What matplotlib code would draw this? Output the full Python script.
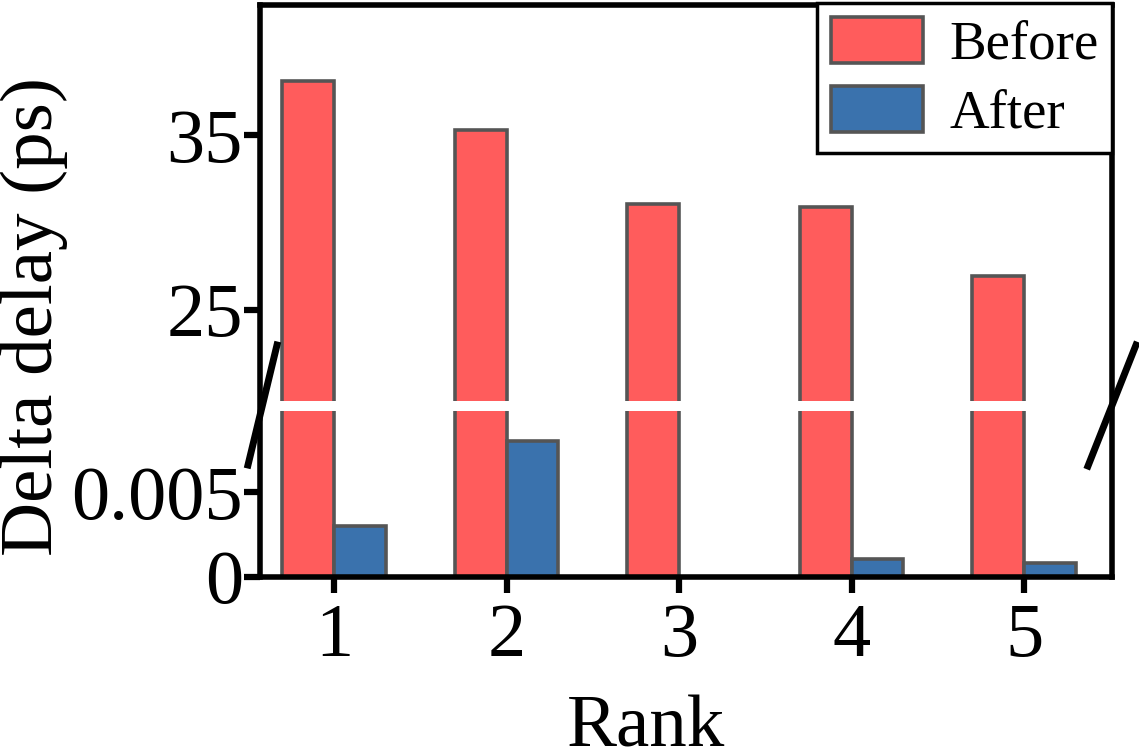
import numpy as np
import matplotlib
matplotlib.use("Agg")
import matplotlib.pyplot as plt
from matplotlib.patches import Rectangle
from matplotlib.lines import Line2D

# ===============================================
# Data
# ===============================================

ranks = [1, 2, 3, 4, 5]
before = [38.1, 35.3, 31.05, 30.9, 26.95]
after = [0.0030, 0.0080, 0.0, 0.00106, 0.00083]

ytick_vals = [0, 0.005, 25, 35]
ytick_labels = ["0", "0.005", "25", "35"]

# ===============================================
# Broken axis scale (piecewise linear)
# ===============================================

LOW_TOP = 0.01006     # top of lower segment
HIGH_BOT = 19.514     # bottom of upper segment
LOW_K = 17000.0       # px per unit in lower segment
HIGH_K = 17.5         # px per unit in upper segment
P_BREAK = LOW_TOP * LOW_K


def forward(y):
    y = np.asarray(y, dtype=float)
    return np.where(y <= LOW_TOP, y * LOW_K,
                    P_BREAK + (y - HIGH_BOT) * HIGH_K)


def inverse(p):
    p = np.asarray(p, dtype=float)
    return np.where(p <= P_BREAK, p / LOW_K,
                    HIGH_BOT + (p - P_BREAK) / HIGH_K)


plt.rcParams["font.family"] = ["Liberation Serif", "DejaVu Serif"]

W, H = 1139, 754
fig = plt.figure(figsize=(W / 100, H / 100), dpi=100)
ax = fig.add_axes([260 / W, 1 - 577 / H, 852 / W, 572 / H])
ax.set_yscale("function", functions=(forward, inverse))

x = np.array(ranks, dtype=float)
w = 0.3
edge = "#555555"

ax.bar(x - w / 2, before, w, color="#FF5C5C", edgecolor=edge,
       linewidth=2.6, label="Before", zorder=1)
ax.bar(x + w / 2, after, w, color="#3A72AD", edgecolor=edge,
       linewidth=2.6, label="After", zorder=1)

ax.set_xlim(0.571, 5.51)
ax.set_ylim(0, 42.43)
ax.set_xticks(ranks)
ax.set_yticks(ytick_vals)
ax.set_yticklabels(ytick_labels)
ax.minorticks_off()

ax.tick_params(axis="both", labelsize=55, width=4.5, length=11.5,
               direction="out")
ax.tick_params(axis="y", pad=0.8)
ax.tick_params(axis="x", pad=7.5)

for side in ["left", "right", "top", "bottom"]:
    ax.spines[side].set_linewidth(4)

ax.set_xlabel("Rank", fontsize=54)
ax.set_ylabel("Delta delay (ps)", fontsize=54)
ax.xaxis.set_label_coords(0.4525, -0.2065)
ax.yaxis.set_label_coords(-0.2254, 0.4545)

# white gap across the bars (spines stay on top)
y0 = (577 - 411) / 572
y1 = (577 - 401) / 572
ax.add_patch(Rectangle((0, y0), 1, y1 - y0, transform=ax.transAxes,
                       facecolor="white", edgecolor="none", zorder=2))

# break marks on the spines
for (xa, ya), (xb, yb) in [((248, 465), (277, 345)),
                           ((1088, 466), (1136, 345))]:
    fig.add_artist(Line2D([xa / W, xb / W], [1 - ya / H, 1 - yb / H],
                          color="black", linewidth=5,
                          transform=fig.transFigure, clip_on=False))

leg = ax.legend(loc="upper right", bbox_to_anchor=(1.0, 1.0035),
                borderaxespad=0, fontsize=39.5, fancybox=False,
                framealpha=1, edgecolor="black", handlelength=1.67,
                handleheight=0.92, handletextpad=0.48, labelspacing=0.27,
                borderpad=0.25)
leg.get_frame().set_linewidth(2.5)

fig.savefig("out.png", dpi=100)
